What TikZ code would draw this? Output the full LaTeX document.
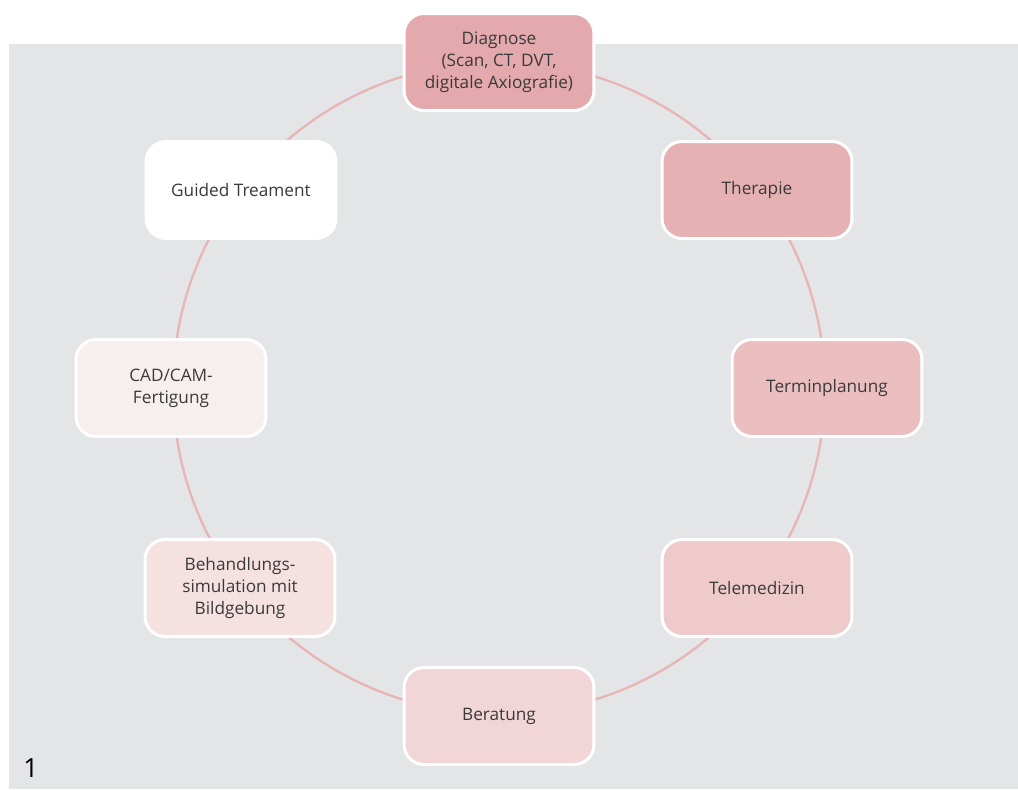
\documentclass[tikz,border=0pt]{standalone}
\usepackage{fontspec}
\setmainfont{Open Sans}
\definecolor{hinter}{HTML}{E4E5E7}
\definecolor{kreis}{HTML}{E8B4B5}
\definecolor{schrift}{HTML}{3A3A3C}
\definecolor{rosaA}{HTML}{E4A9AD}
\definecolor{rosaB}{HTML}{E6B1B3}
\definecolor{rosaC}{HTML}{EBBEBF}
\definecolor{rosaD}{HTML}{EFCACB}
\definecolor{rosaE}{HTML}{F2D5D6}
\definecolor{rosaF}{HTML}{F6E1E1}
\definecolor{rosaG}{HTML}{F7EFEE}
\begin{document}
\begin{tikzpicture}[x=0.02cm,y=-0.02cm,line join=round,
	box/.style={draw=white,line width=1.7pt,rounded corners=0.4cm,minimum width=3.8cm,minimum height=1.94cm,align=center,text=schrift,font=\fontsize{9.8}{12.6}\selectfont}]
		%==Hintergrund
		\useasboundingbox (0,0) rectangle (1018,789);
		\fill[hinter] (9,44) rectangle (1018,789);
		\draw[kreis,line width=1.3pt] (499,388) circle[radius=6.52cm];
		%==Kästen
		\node[box,fill=rosaA] (diag) at (499,62) {Diagnose\\(Scan, CT, DVT,\\digitale Axiografie)};
		\node[box,fill=rosaB] (ther) at (757,190) {Therapie};
		\node[box,fill=rosaC] (term) at (827,388) {Terminplanung};
		\node[box,fill=rosaD] (tele) at (757,588) {Telemedizin};
		\node[box,fill=rosaE] (bera) at (499,716) {Beratung};
		\node[box,fill=rosaF] (behand) at (240,588) {Behandlungs-\\simulation mit\\Bildgebung};
		\node[box,fill=rosaG] (cad) at (171,388) {CAD/CAM-\\Fertigung};
		\node[box,fill=white] (guided) at (241,190) {Guided Treament};
		\node[text=black,font=\fontsize{15}{18}\selectfont] (nr) at (31,768) {1};
\end{tikzpicture}
\end{document}
